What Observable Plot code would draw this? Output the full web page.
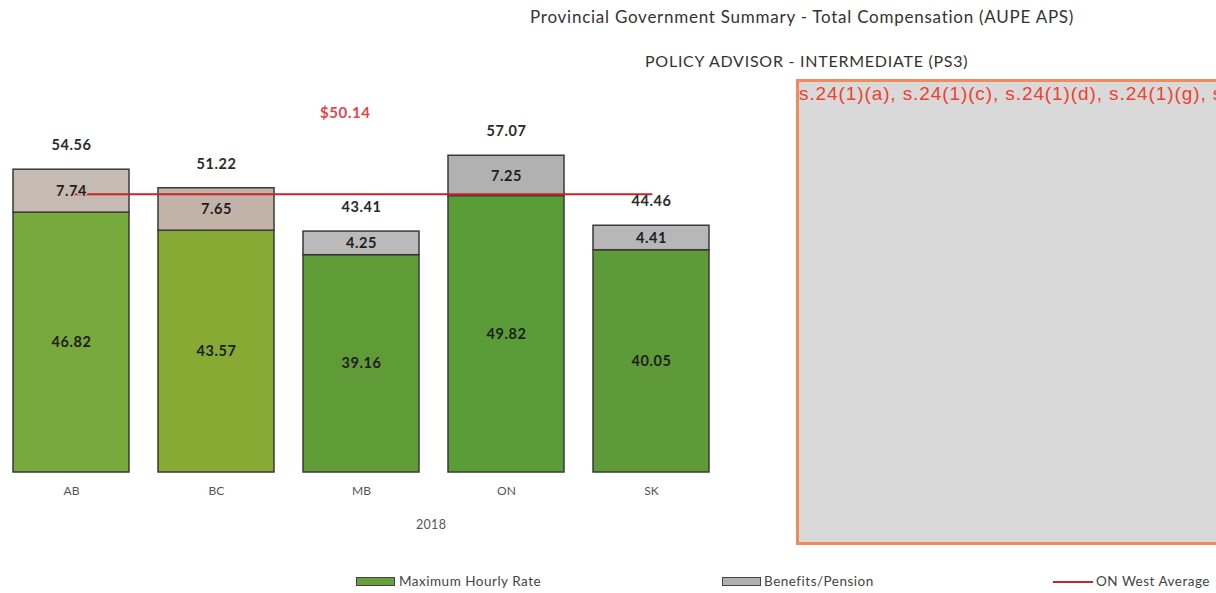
<!DOCTYPE html>
<html>
<head>
<meta charset="utf-8">
<script src="https://cdn.jsdelivr.net/npm/d3@7"></script>
<script src="https://cdn.jsdelivr.net/npm/@observablehq/plot@0.6"></script>
<style>
  html, body { margin: 0; padding: 0; background: #fff; }
  #root { position: relative; width: 1216px; height: 593px; overflow: hidden; background: #fff; font-family: Lato, "Open Sans", sans-serif; color: #333; }
  .abs { position: absolute; white-space: nowrap; }
  #chart { position: absolute; left: 0; top: 0; }
  .sw { position: absolute; height: 9px; border: 1px solid #444; box-sizing: border-box; }
  .leg { font-size: 13.5px; letter-spacing: 0.5px; color: #444; }
</style>
</head>
<body>
<div id="root">
  <div id="chart"></div>
  <div class="abs" id="title" style="left:530px; top:6px; font-size:17px; letter-spacing:0.75px; color:#333;"></div>
  <div class="abs" id="subtitle" style="left:645px; top:51px; font-size:16px; letter-spacing:0.75px; color:#333;"></div>
  <div class="abs" id="avgLabel" style="left:320px; top:103px; font-size:15px; letter-spacing:0.6px; font-weight:bold; color:#e0484e;"></div>
  <div class="abs" id="yearLabel" style="left:416px; top:517px; font-size:12.5px; letter-spacing:0.3px; color:#555;"></div>
  <div class="abs" id="redact" style="left:796px; top:79px; width:440px; height:466px; box-sizing:border-box; background:#d9d9d9; border:3px solid #f28a5c; border-right:none; overflow:hidden;">
    <div id="redactText" style="position:absolute; left:0px; top:1px; font-family:'Liberation Sans', Arial, sans-serif; font-size:19px; letter-spacing:0.9px; color:#f0402e; white-space:nowrap;"></div>
  </div>
  <div class="sw" style="left:356px; top:577px; width:39px; background:#65a03a;"></div>
  <div class="abs leg" id="leg1" style="left:399px; top:573px;"></div>
  <div class="sw" style="left:722px; top:577px; width:39px; background:#b0b0b0;"></div>
  <div class="abs leg" id="leg2" style="left:764px; top:573px;"></div>
  <div class="abs" style="left:1053px; top:581px; width:40px; height:2px; background:#c8242b;"></div>
  <div class="abs leg" id="leg3" style="left:1096px; top:573px;"></div>
</div>
<script>
// ---- data ----
const provinces = ["AB", "BC", "MB", "ON", "SK"];
const maxHourlyRate = [46.82, 43.57, 39.16, 49.82, 40.05];
const benefitsPension = [7.74, 7.65, 4.25, 7.25, 4.41];
const totals = [54.56, 51.22, 43.41, 57.07, 44.46];
const onWestAverage = 50.14;
const year = "2018";
const titleText = "Provincial Government Summary - Total Compensation (AUPE APS)";
const subtitleText = "POLICY ADVISOR - INTERMEDIATE (PS3)";
const redactedText = "s.24(1)(a), s.24(1)(c), s.24(1)(d), s.24(1)(g), s.24(1)(j)";
const legendLabels = ["Maximum Hourly Rate", "Benefits/Pension", "ON West Average"];

// ---- styles (per bar shading as in the scanned original) ----
const greenFill = {AB: "#78a93c", BC: "#86aa33", MB: "#5f9b36", ON: "#5a9c37", SK: "#5e9b38"};
const grayFill = {AB: "#c6bbb3", BC: "#c2b3a8", MB: "#bababa", ON: "#b1b1b1", SK: "#b7b7b7"};

const rows = provinces.map((p, i) => ({
  province: p,
  base: maxHourlyRate[i],
  benefit: benefitsPension[i],
  total: totals[i]
}));
const avgRows = provinces.map(p => ({province: p, avg: onWestAverage}));

document.getElementById("title").textContent = titleText;
document.getElementById("subtitle").textContent = subtitleText;
document.getElementById("avgLabel").textContent = "$" + onWestAverage.toFixed(2);
document.getElementById("yearLabel").textContent = year;
document.getElementById("redactText").textContent = redactedText;
document.getElementById("leg1").textContent = legendLabels[0];
document.getElementById("leg2").textContent = legendLabels[1];
document.getElementById("leg3").textContent = legendLabels[2];

const labelStyle = {fontSize: 14.5, fontWeight: "bold", letterSpacing: "0.6px"};

const chart = Plot.plot({
  width: 722,
  height: 545,
  marginLeft: 5,
  marginRight: 5,
  marginTop: 28,
  marginBottom: 73,
  style: {fontFamily: "Lato, 'Open Sans', sans-serif", background: "transparent"},
  x: {domain: provinces, paddingInner: 0.2, paddingOuter: 0.05, label: null, tickSize: 0, tickPadding: 14},
  y: {domain: [0, 80], axis: null},
  marks: [
    Plot.axisX({tickSize: 0, tickPadding: 14, fontSize: 12, fill: "#555", label: null}),
    Plot.barY(rows, {x: "province", y1: 0, y2: "base", fill: d => greenFill[d.province], stroke: "#3a3a3a", strokeWidth: 1.5}),
    Plot.barY(rows, {x: "province", y1: "base", y2: "total", fill: d => grayFill[d.province], stroke: "#3a3a3a", strokeWidth: 1.5}),
    Plot.lineY(avgRows, {x: "province", y: "avg", stroke: "#c8242b", strokeWidth: 2}),
    Plot.text(rows, {x: "province", y: d => d.base / 2, text: d => d.base.toFixed(2), ...labelStyle, fill: "#1e1e1e"}),
    Plot.text(rows, {x: "province", y: d => d.base + d.benefit / 2, text: d => d.benefit.toFixed(2), ...labelStyle, fill: "#1e1e1e", stroke: d => grayFill[d.province], strokeWidth: 3, paintOrder: "stroke"}),
    Plot.text(rows, {x: "province", y: "total", dy: -24, text: d => d.total.toFixed(2), ...labelStyle, fill: "#2a2a2a"})
  ]
});
chart.querySelectorAll("text").forEach(t => { if (t.closest("g[aria-label='text']")) t.style.letterSpacing = "0.6px"; });
document.getElementById("chart").appendChild(chart);
</script>
</body>
</html>
